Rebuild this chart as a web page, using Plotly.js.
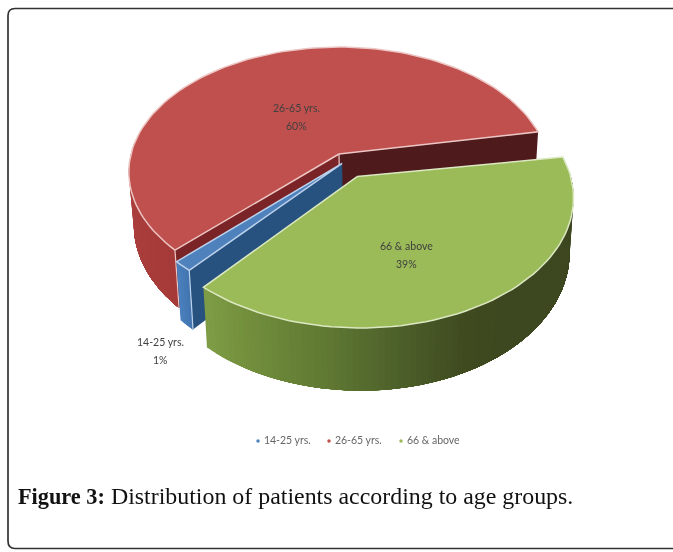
<!DOCTYPE html>
<html><head><meta charset="utf-8">
<script src="https://cdn.plot.ly/plotly-3.0.1.min.js"></script>
<style>html,body{margin:0;padding:0;background:#fff;overflow:hidden}#c{width:673px;height:552px;filter:blur(0.45px)}</style>
</head><body><div id="c"></div>
<script>
const categories = ['14-25 yrs.', '26-65 yrs.', '66 & above'];
const shares = [1.3, 59.5, 38.7];
const topColors = ['#4f81bd', '#c0504d', '#9bbb59'];
const edgeColors = ['#bcd2ec', '#ecc6c4', '#dbe8c2'];
const captionBold = 'Figure 3:';
const captionText = 'Distribution of patients according to age groups.';

// projection of the pie plane onto the page (paper pixels used as axis units)
const view = {x0: 339, y0: 154, sx: 208, sy: 122.4, k: 0.144, depth: 52, xc: 380, shrink: 0.02};
const pull = {blue: [0.015, -0.075], red: [0, 0], green: [0.085, -0.18]};
const startAngle = 10.7;

function upper(X, Y) {
  const w = 1 + view.k * Y;
  return [view.x0 + view.sx * X / w, view.y0 - view.sy * Y / w];
}
function lower(X, Y) {
  const p = upper(X, Y), w = 1 + view.k * Y;
  return [p[0] + (view.xc - p[0]) * view.shrink, p[1] + view.depth / w];
}
function rim(deg, off) {
  const a = deg * Math.PI / 180;
  return [Math.cos(a) + off[0], Math.sin(a) + off[1]];
}
function arc(from, to, off) {
  const out = [], n = Math.max(2, Math.ceil(Math.abs(to - from) / 2));
  for (let i = 0; i <= n; i++) out.push(rim(from + (to - from) * i / n, off));
  return out;
}
function poly(points, fill, line, lw) {
  const x = points.map(p => p[0]), y = points.map(p => p[1]);
  x.push(x[0]); y.push(y[0]);
  return {type: 'scatter', mode: 'lines', x, y, fill: 'toself', fillcolor: fill,
    line: {color: line || fill, width: lw === undefined ? 0 : lw},
    hoverinfo: 'skip', showlegend: false};
}
function lerp(a, b, f) {
  const pa = a.match(/\w\w/g).map(h => parseInt(h, 16)), pb = b.match(/\w\w/g).map(h => parseInt(h, 16));
  return 'rgb(' + pa.map((v, i) => Math.round(v + (pb[i] - v) * f)).join(',') + ')';
}
// each strip runs to the end of the wall and the next one paints over it, so no seams show
function wallStrips(from, to, off, stops) {
  const out = [], n = Math.ceil((to - from) / 1.5);
  for (let i = 0; i < n; i++) {
    const a = from + (to - from) * i / n;
    const pts = arc(a, to, off);
    const f = (i + .5) / n * (stops.length - 1), j = Math.min(stops.length - 2, Math.floor(f));
    const col = lerp(stops[j], stops[j + 1], f - j);
    out.push(poly(pts.map(p => upper(p[0], p[1])).concat(pts.slice().reverse().map(p => lower(p[0], p[1]))), col));
  }
  return out;
}
function cutWall(deg, off, fill) {
  const c = off, r = rim(deg, off);
  return poly([upper(c[0], c[1]), upper(r[0], r[1]), lower(r[0], r[1]), lower(c[0], c[1])], fill);
}
function wedge(from, to, off, fill, line) {
  const pts = [off].concat(arc(from, to, off));
  return poly(pts.map(p => upper(p[0], p[1])), fill, line, 1.5);
}
function corner(P, color) {
  const a = upper(P[0], P[1]), b = lower(P[0], P[1]);
  return {type: 'scatter', mode: 'lines', x: [a[0], b[0]], y: [a[1], b[1]],
    line: {color, width: 1.2}, hoverinfo: 'skip', showlegend: false};
}

// slice boundaries from the shares: red first, then blue, then green
const redEnd = startAngle + shares[1] * 3.6;
const blueEnd = redEnd + shares[0] * 3.6;
const greenEnd = blueEnd + shares[2] * 3.6;

const traces = [];
// red
traces.push(...wallStrips(165, redEnd, pull.red, ['#b24844', '#ab3f3d', '#a53a38']));
traces.push(cutWall(startAngle, pull.red, '#4f1a1c'));
traces.push(cutWall(redEnd, pull.red, '#7a2427'));
traces.push(corner(rim(redEnd, pull.red), edgeColors[1]));
traces.push(corner(pull.red, edgeColors[1]));
traces.push(wedge(startAngle, redEnd, pull.red, topColors[1], edgeColors[1]));
// blue
traces.push(cutWall(blueEnd, pull.blue, '#27527f'));
traces.push(...wallStrips(redEnd, blueEnd, pull.blue, ['#4a80bf', '#4274ae']));
traces.push(corner(rim(blueEnd, pull.blue), edgeColors[0]));
traces.push(wedge(redEnd, blueEnd, pull.blue, topColors[0], edgeColors[0]));
// green
traces.push(...wallStrips(blueEnd, 362, pull.green,
  ['#7f9d45', '#6f8b3b', '#5f7832', '#4c5f2a', '#3f4a1f', '#3d4720', '#3d4720', '#3d4720', '#3d4720']));
traces.push(wedge(blueEnd, greenEnd, pull.green, topColors[2], edgeColors[2]));

// legend row
const legendMarkX = [258, 329, 401];
categories.forEach((c, i) => traces.push({
  type: 'scatter', mode: 'markers+text', x: [legendMarkX[i]], y: [441],
  marker: {size: 3.5, color: topColors[i]}, text: ['\u00A0' + c], textposition: 'middle right',
  textfont: {family: 'Lato, sans-serif', size: 10.5, color: '#666'},
  hoverinfo: 'skip', showlegend: false, name: c
}));

const labelFont = {family: 'Lato, sans-serif', size: 10.5, color: '#404040'};
const line = (text, x, y) => ({x, y, xref: 'x', yref: 'y', showarrow: false, text, font: labelFont});
const label = (i, x, y) => [
  line(categories[i], x, y - 9),
  line(Math.round(shares[i]) + '%', x, y + 9)
];
const layout = {
  width: 673, height: 552, margin: {l: 0, r: 0, t: 0, b: 0}, showlegend: false,
  paper_bgcolor: '#fff', plot_bgcolor: '#fff',
  xaxis: {range: [0, 673], visible: false, fixedrange: true},
  yaxis: {range: [552, 0], visible: false, fixedrange: true},
  shapes: [
    {type: 'path', xref: 'x', yref: 'y',
     path: 'M 673 8.5 L 15 8.5 Q 8 8.5 8 15.5 L 8 541 Q 8 548.5 15 548.5 L 673 548.5',
     line: {color: '#333', width: 1.7}, fillcolor: 'rgba(0,0,0,0)'}],
  annotations: [
    ...label(1, 296, 117), ...label(2, 406, 255), ...label(0, 160, 351),
    {x: 16, y: 496, xref: 'x', yref: 'y', xanchor: 'left', showarrow: false,
     text: '<b><span style="font-size:22.3px">' + captionBold + '</span></b> ' + captionText,
     font: {family: '"Liberation Serif", serif', size: 23.9, color: '#111'}}
  ]
};
Plotly.newPlot('c', traces, layout, {displayModeBar: false, staticPlot: true});
</script></body></html>
